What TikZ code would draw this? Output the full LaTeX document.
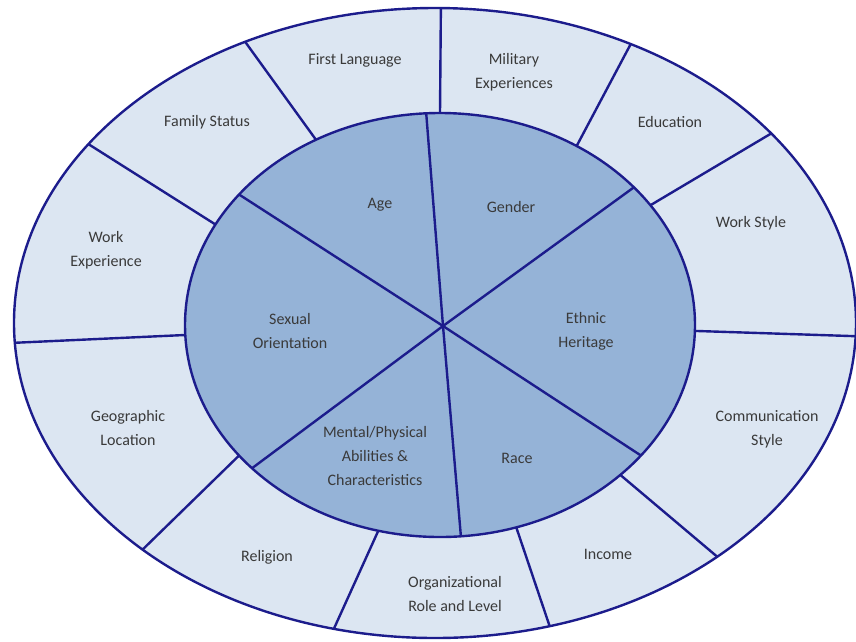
\documentclass[tikz,border=0pt]{standalone}
\usepackage{fontspec}
\setmainfont{Carlito}
\usetikzlibrary{calc}
\definecolor{outerfill}{HTML}{DCE6F2}
\definecolor{innerfill}{HTML}{95B3D7}
\definecolor{rim}{HTML}{1C1C8C}
\definecolor{txt}{HTML}{3A3A3A}
\begin{document}
\begin{tikzpicture}[x=1pt,y=-1pt,
  rimline/.style={draw=rim,line width=2.4pt},
  lbl/.style={text=txt,font=\fontsize{16}{24}\selectfont,align=center,inner sep=0pt}]
\useasboundingbox (0,0) rectangle (856,641);
\clip (0,0) rectangle (856,641);
\coordinate (oc) at (435,323);
\coordinate (ic) at (440,325);
\coordinate (hub) at (443,326);
% fills
\fill[outerfill] (oc) ellipse [x radius=421, y radius=315];
\fill[innerfill] (ic) ellipse [x radius=255, y radius=212];
% inner spokes
\foreach \a in {266.9,-40.5,38.0,85.3,137.5,218.0}
  \draw[rimline] (hub) -- ($(ic)+(\a:255 and 212)$);
% outer spokes
\foreach \i/\o in {240.9/243.2,208.3/214.6,177.3/176.4,142.0/134.0,104.0/103.9,72.6/74.2,45.0/47.9,1.6/2.4,-34.4/-37.0,-57.6/-62.3,-90/-89.2}
  \draw[rimline] ($(ic)+(\i:255 and 212)$) -- ($(oc)+(\o:421 and 315)$);
% outlines
\draw[rimline] (oc) ellipse [x radius=421, y radius=315];
\draw[rimline] (ic) ellipse [x radius=255, y radius=212];
% outer labels
\node[lbl] (l1) at (355,60) {First Language};
\node[lbl] (l2) at (207,122) {Family Status};
\node[lbl] (l3) at (106,250) {Work\\Experience};
\node[lbl] (l4) at (128,428) {Geographic\\Location};
\node[lbl] (l5) at (267,557) {Religion};
\node[lbl] (l6) at (455,594) {Organizational\\Role and Level};
\node[lbl] (l7) at (608,554) {Income};
\node[lbl] (l8) at (767,429) {Communication\\Style};
\node[lbl] (l9) at (751,223) {Work Style};
\node[lbl] (l10) at (670,122) {Education};
\node[lbl] (l11) at (514,72) {Military\\Experiences};
% inner labels
\node[lbl] (c1) at (380,205) {Age};
\node[lbl] (c2) at (511,207) {Gender};
\node[lbl] (c3) at (586,331) {Ethnic\\Heritage};
\node[lbl] (c4) at (517,458) {Race};
\node[lbl] (c5) at (375,456) {Mental/Physical\\Abilities \&\\Characteristics};
\node[lbl] (c6) at (290,331) {Sexual\\Orientation};
\end{tikzpicture}
\end{document}
